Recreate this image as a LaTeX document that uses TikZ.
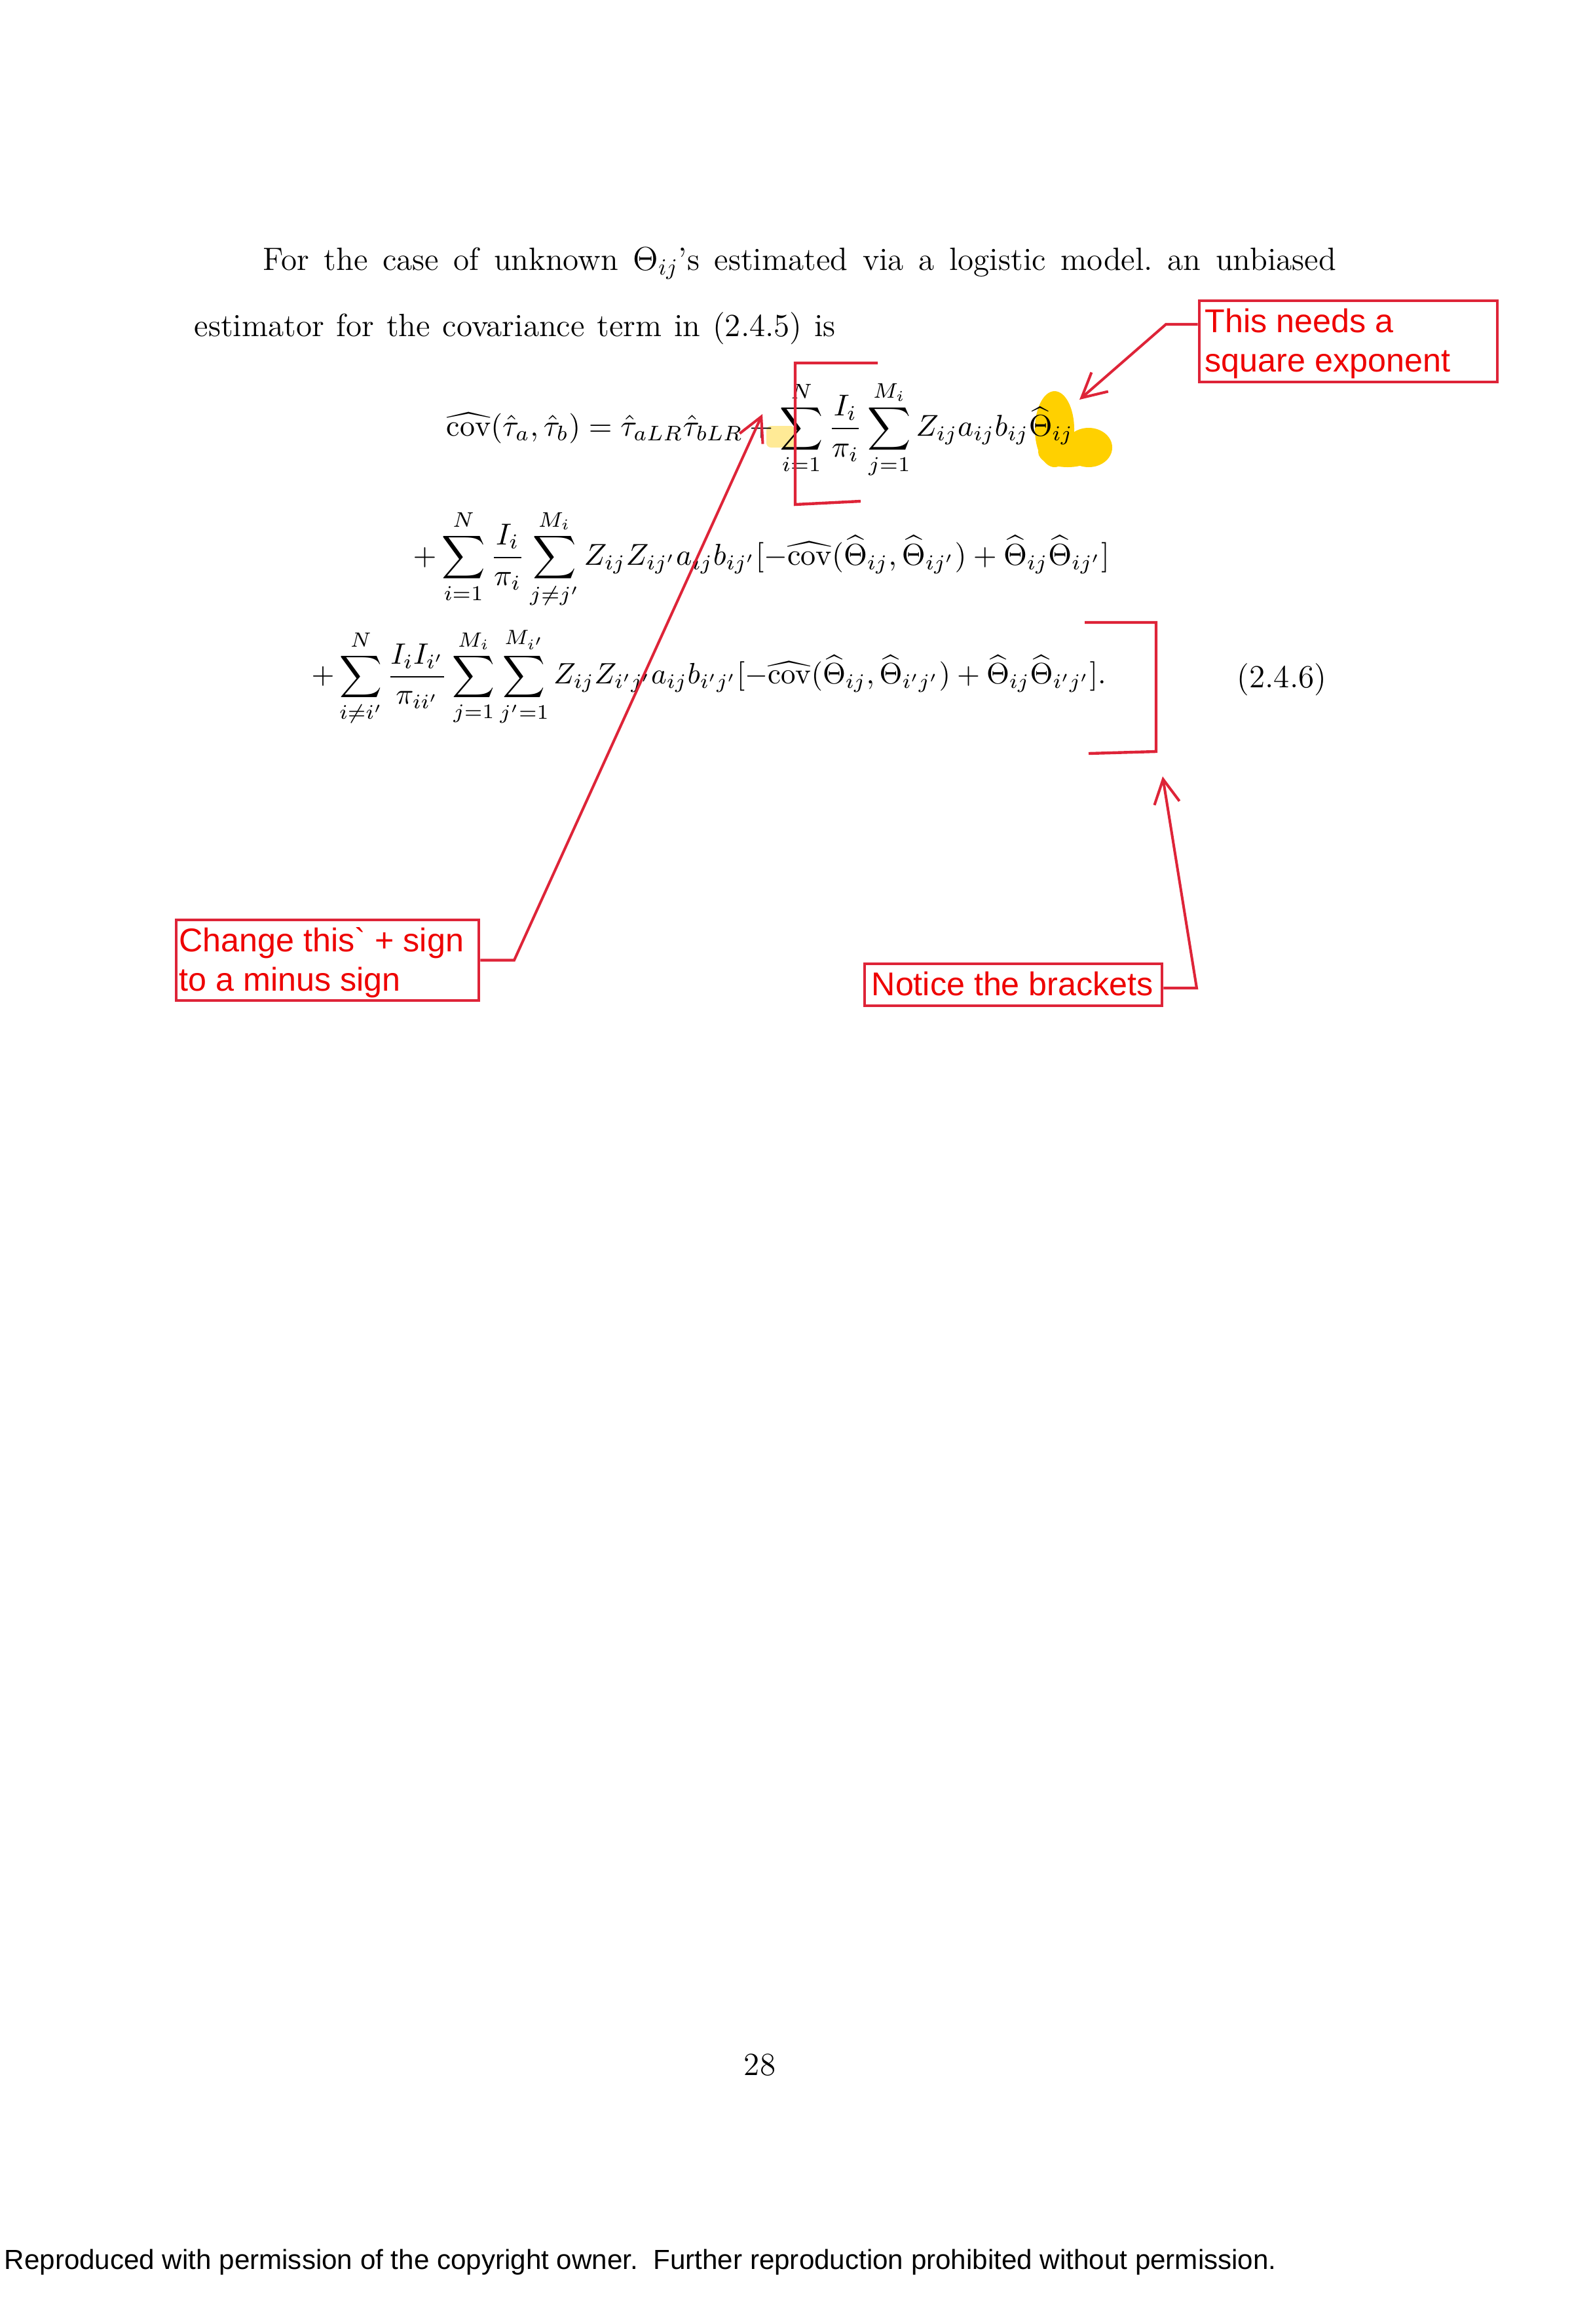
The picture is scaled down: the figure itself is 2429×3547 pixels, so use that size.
\documentclass[tikz,border=0pt]{standalone}
\usepackage{fontspec}
\usepackage{amsmath}
\usepackage{graphicx}
\newfontfamily\arialfont{Liberation Sans}
\usetikzlibrary{arrows.meta,calc}
\definecolor{annored}{RGB}{222,36,56}
\definecolor{annotext}{RGB}{238,0,0}
\definecolor{hiyellow}{RGB}{255,208,0}
\definecolor{paleyellow}{RGB}{255,234,150}
\tikzset{
  bodytext/.style={anchor=base west, inner sep=0pt, font=\fontsize{14}{16}\selectfont},
  eqline/.style={anchor=west, inner sep=0pt},
  notebox/.style={draw=annored, line width=1.3pt, inner sep=0pt},
  notetext/.style={anchor=base west, inner sep=0pt, text=annotext, font=\arialfont\fontsize{14.3}{17}\selectfont},
  conn/.style={draw=annored, line width=1.15pt, -{Straight Barb[length=10.5pt,width=11pt,line width=1.15pt]}},
  bracketline/.style={draw=annored, line width=1.25pt},
}
\begin{document}
\frenchspacing
\begin{tikzpicture}[x=0.1mm,y=-0.1mm]
\useasboundingbox (0,0) rectangle (2429,3547);
\fill[white] (0,0) rectangle (2429,3547);

% highlights
\fill[paleyellow, rounded corners=2pt] (1170,650) rectangle (1214,683);
\fill[hiyellow] (1610,655) ellipse [x radius=3.0mm, y radius=5.8mm];
\fill[hiyellow] (1662,683) ellipse [x radius=3.6mm, y radius=3.0mm];
\fill[hiyellow] (1630,690) ellipse [x radius=4.5mm, y radius=2.3mm];

% body text
\node[bodytext] (l1) at (401,412) {\makebox[466.1pt][s]{For the case of unknown $\Theta_{ij}$'s estimated via a logistic model. an unbiased}};
\node[bodytext] (l2) at (296,513) {\makebox[278.6pt][s]{estimator for the covariance term in (2.4.5) is}};

% equation lines
\node[eqline] (e1) at (681,656) {\resizebox{272.3pt}{!}{$\displaystyle \widehat{\mathrm{cov}}(\hat\tau_a,\hat\tau_b) = \hat\tau_{aLR}\hat\tau_{bLR} + \sum_{i=1}^{N}\frac{I_i}{\pi_i}\sum_{j=1}^{M_i} Z_{ij}a_{ij}b_{ij}\widehat\Theta_{ij}$}};
\node[eqline] (e2) at (630,853) {\resizebox{302.5pt}{!}{$\displaystyle +\sum_{i=1}^{N}\frac{I_i}{\pi_i}\sum_{j\neq j'}^{M_i} Z_{ij}Z_{ij'}a_{ij}b_{ij'}[-\widehat{\mathrm{cov}}(\widehat\Theta_{ij},\widehat\Theta_{ij'})+\widehat\Theta_{ij}\widehat\Theta_{ij'}]$}};
\node[eqline] (e3) at (475,1033) {\resizebox{345.1pt}{!}{$\displaystyle +\sum_{i\neq i'}^{N}\frac{I_iI_{i'}}{\pi_{ii'}}\sum_{j=1}^{M_i}\sum_{j'=1}^{M_{i'}} Z_{ij}Z_{i'j'}a_{ij}b_{i'j'}[-\widehat{\mathrm{cov}}(\widehat\Theta_{ij},\widehat\Theta_{i'j'})+\widehat\Theta_{ij}\widehat\Theta_{i'j'}].$}};
\node[inner sep=0pt, font=\fontsize{14}{16}\selectfont] (tag) at (1957,1037) {(2.4.6)};

% page number and footer
\node[inner sep=0pt, font=\fontsize{14}{16}\selectfont] (pg) at (1160,3152) {28};
\node[anchor=base west, inner sep=0pt, font=\arialfont\fontsize{12}{14}\selectfont] (foot) at (6,3463) {\resizebox{552.6pt}{!}{Reproduced with permission of the copyright owner.\ \ Further reproduction prohibited without permission.}};

% red brackets
\draw[bracketline] (1340,554) -- (1214,554) -- (1214,770) -- (1314,765);
\draw[bracketline] (1656,950) -- (1765,950) -- (1765,1147) -- (1662,1150);

% annotation boxes
\node[notebox, minimum width=45.5mm, minimum height=12.4mm] (sq) at (2058.5,521) {};
\node[notetext] (sqa) at (1839,507) {This needs a};
\node[notetext] (sqb) at (1839,567) {square exponent};

\node[notebox, minimum width=46.2mm, minimum height=12.3mm] (ch) at (500,1465.5) {};
\node[notetext] (cha) at (273,1452) {Change this` + sign};
\node[notetext] (chb) at (273,1512) {to a minus sign};

\node[notebox, minimum width=45.4mm, minimum height=6.4mm] (nb) at (1547,1503) {};
\node[notetext] (nba) at (1330,1519) {Notice the brackets};

% connectors
\coordinate (b1) at (1780,495);
\coordinate (t1) at (1648,610);
\draw[conn] (sq.west |- b1) -- (b1) -- (t1);

\coordinate (b2) at (785,1465.5);
\coordinate (t2) at (1164,632);
\draw[conn] (ch.east) -- (b2) -- (t2);

\coordinate (b3) at (1827,1508);
\coordinate (t3) at (1775,1185);
\draw[conn] (nb.east |- b3) -- (b3) -- (t3);
\end{tikzpicture}
\end{document}
